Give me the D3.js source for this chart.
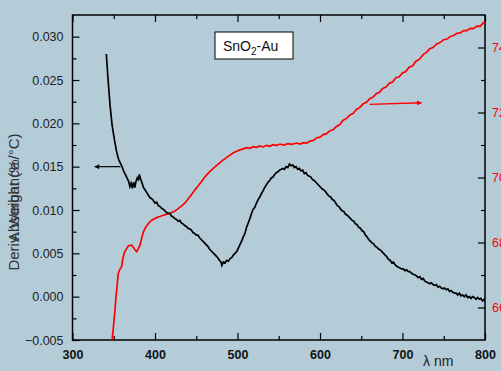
<!DOCTYPE html>
<html><head><meta charset="utf-8">
<script src="https://cdn.jsdelivr.net/npm/d3@7"></script>
<style>
html,body{margin:0;padding:0;background:#b4ccd8;}
svg{display:block;}
text{font-family:"Liberation Sans",Arial,sans-serif;}
</style></head>
<body>
<svg id="c" width="501" height="371"></svg>
<script>
// ---- data ----
const absWavelength = [341,343,345.5,348,351,353.5,356,358,360,362,364,366,368,369.5,371,372.5,374,375.5,377,378.5,380,381,382.5,384,386,388,390,392,394,396,398,400,402,404,406,408,410,412,414,416,418,420,422,424,426,428,430,432,434,436,438,440,442,444,446,448,450,452,454,456,458,460,462,464,466,468,470,472,474,476,478,480,481,483,485,487,489,491,493,495,497,499,501,503,505,507,509,511,513,515,517,519,521,523,525,527,529,531,533,535,537,539,541,543,545,547,549,551,553,555,557,559,561,563,565,567,569,571,573,575,577,579,581,583,585,587,589,591,593,595,597,599,601,603,605,607,609,611,613,615,617,619,621,623,625,627,629,631,633,635,637,639,641,643,645,647,649,651,653,655,657,659,661,663,665,667,669,671,673,675,677,679,681,683,685,687,689,691,693,695,697,699,701,703,705,707,709,711,713,715,717,719,721,723,725,727,729,731,733,735,737,739,741,743,745,747,749,751,753,755,757,759,761,763,765,767,769,771,773,775,777,779,781,783,785,787,789,791,793,795,797,799,800];
const absorbance = [0.0280,0.0252,0.0221,0.0198,0.0180,0.0167,0.0158,0.0154,0.0150,0.0145,0.0141,0.0137,0.0133,0.0127,0.0131,0.0125,0.0132,0.0126,0.0133,0.0137,0.0135,0.0141,0.0136,0.0132,0.0126,0.0123,0.0120,0.0117,0.0114,0.0113,0.0111,0.0108,0.0109,0.0105,0.0104,0.0102,0.0101,0.0099,0.0097,0.0096,0.0096,0.0093,0.0092,0.0090,0.0089,0.0087,0.0088,0.0085,0.0084,0.0082,0.0081,0.0079,0.0078,0.0077,0.0074,0.0073,0.0071,0.0071,0.0068,0.0066,0.0064,0.0062,0.0060,0.0058,0.0055,0.0053,0.0051,0.0049,0.0047,0.0045,0.0042,0.0040,0.0036,0.0040,0.0039,0.0042,0.0041,0.0044,0.0045,0.0048,0.0050,0.0052,0.0056,0.0060,0.0064,0.0069,0.0073,0.0080,0.0085,0.0090,0.0096,0.0101,0.0103,0.0108,0.0112,0.0115,0.0119,0.0122,0.0126,0.0129,0.0132,0.0134,0.0137,0.0138,0.0141,0.0143,0.0144,0.0146,0.0147,0.0148,0.0147,0.0150,0.0149,0.0153,0.0151,0.0152,0.0149,0.0150,0.0147,0.0148,0.0145,0.0146,0.0142,0.0143,0.0140,0.0139,0.0138,0.0135,0.0134,0.0132,0.0130,0.0128,0.0126,0.0124,0.0123,0.0121,0.0118,0.0116,0.0115,0.0112,0.0111,0.0108,0.0105,0.0104,0.0101,0.0099,0.0098,0.0095,0.0094,0.0092,0.0090,0.0088,0.0087,0.0084,0.0083,0.0080,0.0079,0.0076,0.0075,0.0071,0.0069,0.0066,0.0064,0.0062,0.0061,0.0058,0.0057,0.0055,0.0054,0.0052,0.0050,0.0048,0.0046,0.0043,0.0042,0.0039,0.0040,0.0037,0.0035,0.0034,0.0033,0.0032,0.0032,0.0030,0.0031,0.0029,0.0029,0.0027,0.0026,0.0025,0.0024,0.0022,0.0023,0.0020,0.0021,0.0018,0.0017,0.0016,0.0015,0.0016,0.0014,0.0013,0.0014,0.0011,0.0012,0.0010,0.0009,0.0010,0.0008,0.0009,0.0006,0.0007,0.0005,0.0004,0.0004,0.0002,0.0004,0.0001,0.0002,0.0000,0.0002,-0.0001,0.0000,-0.0002,0.0000,-0.0001,-0.0003,-0.0001,-0.0003,-0.0002,-0.0005,-0.0003,-0.0006];

const wtWavelength = [348,350,351.5,353,355.5,357,359.6,361,363,365.7,368,371.7,374,376,377.8,380,381.8,384,386,388,391,394,397,400,403,406,409,412,415,418,421,424,427,430,433,436,439,442,445,448.5,452,455,458,460.6,464,468,472.7,477,482.8,487,491,495,499,503,507,511,515,519,523,527,531,535,539,543,547,551.5,556,561,566,571.7,576,580,584,588,592,596,600,604,608,612,616,620,624,628,632,636,640,644.5,648,652,656.6,660,664,668,672,676,680,684,688,692,696,700,704,708,712,716,720.6,725,729,733,737,741,745.5,750,754,758,761.5,766,770,774,778,782,786,790,794,798,800];
const weightDeriv = [65.0,65.5,65.92,66.4,67.05,67.15,67.26,67.5,67.7,67.82,67.9,67.92,67.85,67.76,67.72,67.82,67.92,68.15,68.33,68.44,68.55,68.64,68.70,68.74,68.78,68.80,68.83,68.85,68.88,68.90,68.93,68.97,69.02,69.08,69.14,69.21,69.30,69.40,69.50,69.62,69.73,69.83,69.93,70.02,70.12,70.22,70.33,70.42,70.54,70.62,70.69,70.76,70.81,70.85,70.88,70.92,70.90,70.95,70.93,70.97,70.94,70.99,70.96,71.01,70.98,71.03,71.00,71.04,71.02,71.06,71.03,71.07,71.06,71.12,71.14,71.22,71.24,71.32,71.35,71.44,71.47,71.57,71.63,71.76,71.81,71.92,71.97,72.10,72.15,72.26,72.32,72.42,72.47,72.58,72.62,72.74,72.78,72.90,72.94,73.07,73.10,73.22,73.26,73.39,73.43,73.57,73.64,73.78,73.85,73.96,74.00,74.10,74.15,74.24,74.26,74.34,74.36,74.44,74.45,74.52,74.52,74.59,74.58,74.66,74.65,74.76,74.78];

const xTicks = [300,400,500,600,700,800];
const yLeftTicks = [-0.005,0.000,0.005,0.010,0.015,0.020,0.025,0.030];
const yRightTicks = [66,68,70,72,74];
const xLabel = "λ nm";
const yLabels = ["Deriv. Weight (%/°C)","Absorbance"];

// ---- layout ----
const svg = d3.select("#c");
const L = 72.5, R = 485, T = 15, B = 340;
const x = d3.scaleLinear().domain([300,800]).range([L,R]);
const yL = d3.scaleLinear().domain([-0.005,0.0325]).range([B,T]);
const yR = d3.scaleLinear().domain([65,75]).range([B,T]);

svg.append("defs").append("clipPath").attr("id","clip")
  .append("rect").attr("x",L).attr("y",T).attr("width",R-L).attr("height",B-T);
const defs = svg.select("defs");
defs.append("marker").attr("id","ahK").attr("viewBox","0 0 10 10").attr("refX",9).attr("refY",5)
  .attr("markerWidth",7).attr("markerHeight",5).attr("markerUnits","userSpaceOnUse").attr("orient","auto")
  .append("path").attr("d","M0,0L10,5L0,10Z").attr("fill","#000");
defs.append("marker").attr("id","ahR").attr("viewBox","0 0 10 10").attr("refX",9).attr("refY",5)
  .attr("markerWidth",7).attr("markerHeight",5).attr("markerUnits","userSpaceOnUse").attr("orient","auto")
  .append("path").attr("d","M0,0L10,5L0,10Z").attr("fill","#ff0000");

const tickStyle = g => { g.select(".domain").remove(); g.selectAll(".tick line").attr("stroke","#000").attr("stroke-width",1.2); };

// bottom axis (ticks inward)
svg.append("g").attr("transform",`translate(0,${B})`)
  .call(d3.axisBottom(x).tickValues(d3.range(350,800,100)).tickSize(-4).tickFormat(""))
  .call(tickStyle);
svg.append("g").attr("transform",`translate(0,${B})`)
  .call(d3.axisBottom(x).tickValues(xTicks).tickSize(-7).tickPadding(10).tickFormat(d3.format("d")))
  .call(tickStyle)
  .call(g=>g.selectAll("text").attr("font-size",12.5).attr("font-weight","bold").attr("fill","#111"));
// top axis
svg.append("g").attr("transform",`translate(0,${T})`)
  .call(d3.axisTop(x).tickValues(d3.range(350,800,100)).tickSize(-4).tickFormat(""))
  .call(tickStyle);
svg.append("g").attr("transform",`translate(0,${T})`)
  .call(d3.axisTop(x).tickValues(xTicks).tickSize(-7).tickFormat(""))
  .call(tickStyle);
// left axis
svg.append("g").attr("transform",`translate(${L},0)`)
  .call(d3.axisLeft(yL).tickValues(d3.range(-0.0025,0.032,0.005)).tickSize(-4).tickFormat(""))
  .call(tickStyle);
svg.append("g").attr("transform",`translate(${L},0)`)
  .call(d3.axisLeft(yL).tickValues(yLeftTicks).tickSize(-7).tickPadding(9).tickFormat(d3.format(".3f")))
  .call(tickStyle)
  .call(g=>g.selectAll("text").attr("font-size",12.5).attr("fill","#222"));
// right axis
svg.append("g").attr("transform",`translate(${R},0)`)
  .call(d3.axisRight(yR).tickValues([67,69,71,73]).tickSize(-4).tickFormat(""))
  .call(tickStyle);
svg.append("g").attr("transform",`translate(${R},0)`)
  .call(d3.axisRight(yR).tickValues(yRightTicks).tickSize(-7).tickPadding(7).tickFormat(d3.format("d")))
  .call(tickStyle)
  .call(g=>g.selectAll("text").attr("font-size",12.5).attr("fill","#ff0000"));

// frame
svg.append("rect").attr("x",L).attr("y",T).attr("width",R-L).attr("height",B-T)
  .attr("fill","none").attr("stroke","#000").attr("stroke-width",1.5);

// curves
const plot = svg.append("g").attr("clip-path","url(#clip)");
plot.append("path").datum(d3.zip(wtWavelength,weightDeriv))
  .attr("fill","none").attr("stroke","#ff0000").attr("stroke-width",1.7)
  .attr("d",d3.line().x(d=>x(d[0])).y(d=>yR(d[1])));
plot.append("path").datum(d3.zip(absWavelength,absorbance))
  .attr("fill","none").attr("stroke","#000").attr("stroke-width",1.7)
  .attr("d",d3.line().x(d=>x(d[0])).y(d=>yL(d[1])));

// arrows (annotations in data units)
svg.append("line").attr("x1",x(358)).attr("y1",yL(0.015)).attr("x2",x(327)).attr("y2",yL(0.015))
  .attr("stroke","#000").attr("stroke-width",1.2).attr("marker-end","url(#ahK)");
svg.append("line").attr("x1",x(660)).attr("y1",yR(72.25)).attr("x2",x(723)).attr("y2",yR(72.3))
  .attr("stroke","#ff0000").attr("stroke-width",1.5).attr("marker-end","url(#ahR)");

// legend box
const lg = svg.append("g");
lg.append("rect").attr("x",215).attr("y",32).attr("width",78).attr("height",27)
  .attr("fill","#fff").attr("stroke","#000").attr("stroke-width",1);
const lt = lg.append("text").attr("x",223).attr("y",51).attr("font-size",14).attr("fill","#111");
lt.append("tspan").text("SnO");
lt.append("tspan").attr("font-size",10).attr("dy",4).text("2");
lt.append("tspan").attr("dy",-4).text("-Au");

// axis titles
svg.append("text").attr("x",423).attr("y",366).attr("font-size",14).attr("fill","#222").text(xLabel);
yLabels.forEach(t=>{
  svg.append("text").attr("transform","translate(19,202) rotate(-90)").attr("text-anchor","middle")
    .attr("font-size",15).attr("fill","#333").text(t);
});
</script>
</body></html>
